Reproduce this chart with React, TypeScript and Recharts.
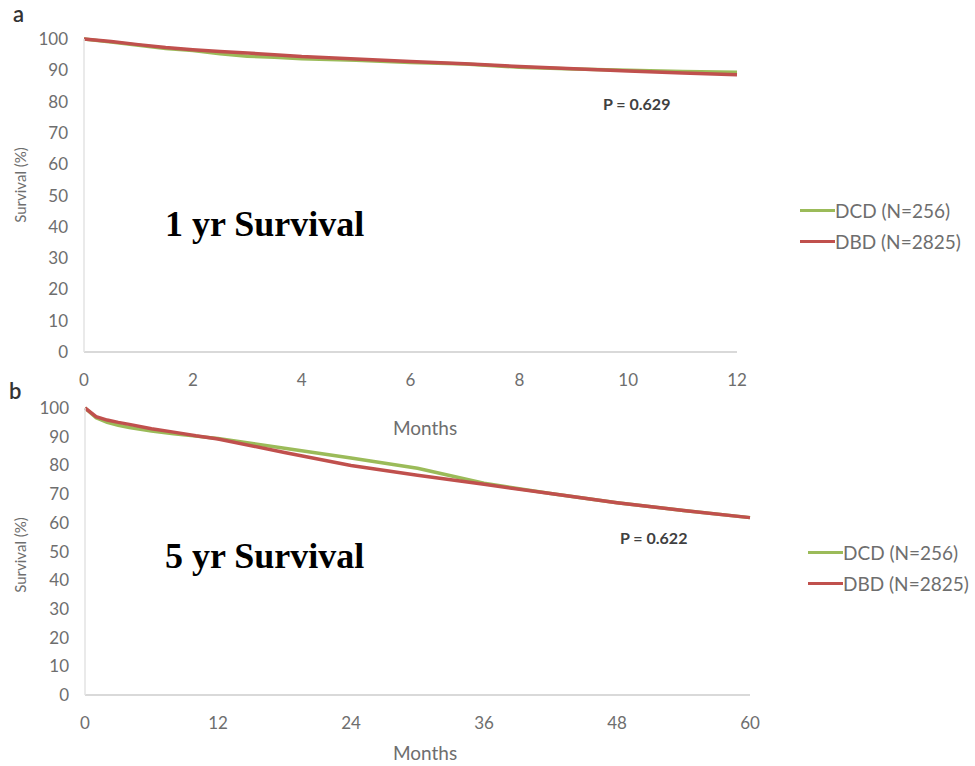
import { LineChart, Line, XAxis, YAxis, Legend } from 'recharts'

const GREEN = '#9bbb59'
const RED = '#c0504d'
const FONT = 'Lato, "Open Sans", sans-serif'
const GREY = '#6e6e6e'

// panel a: 1 year
const oneYearMonths = [0, 0.5, 1, 1.5, 2, 2.5, 3, 3.5, 4, 5, 6, 7, 8, 9, 10, 11, 12]
const oneYearDcd = [100, 99.0, 98.0, 97.0, 96.3, 95.3, 94.5, 94.2, 93.7, 93.2, 92.5, 92.0, 91.0, 90.4, 90.0, 89.6, 89.4]
const oneYearDbd = [100, 99.2, 98.2, 97.3, 96.6, 96.0, 95.5, 95.0, 94.4, 93.6, 92.8, 92.1, 91.2, 90.5, 89.8, 89.1, 88.6]
const oneYearTicks = [0, 2, 4, 6, 8, 10, 12]

// panel b: 5 years
const fiveYearMonths = [0, 1, 2, 3, 4, 6, 8, 10, 12, 18, 24, 30, 36, 42, 48, 54, 60]
const fiveYearDcd = [100, 96.6, 95.0, 94.0, 93.2, 92.0, 91.0, 90.2, 89.4, 86.0, 82.6, 79.0, 73.8, 70.2, 67.0, 64.3, 61.8]
const fiveYearDbd = [100, 97.0, 95.8, 95.0, 94.3, 92.8, 91.6, 90.3, 89.2, 84.5, 80.0, 76.6, 73.4, 70.2, 67.0, 64.3, 61.8]
const fiveYearTicks = [0, 12, 24, 36, 48, 60]

const survivalTicks = [0, 10, 20, 30, 40, 50, 60, 70, 80, 90, 100]
const seriesNames = ['DCD (N=256)', 'DBD (N=2825)']

const toRows = (months: number[], dcd: number[], dbd: number[]) =>
  months.map((m, i) => ({ month: m, dcd: dcd[i], dbd: dbd[i] }))

function KmLegend({ payload }: any) {
  // keep the series order (DCD first), recharts sorts by name otherwise
  const items = [...(payload || [])].sort(
    (a: any, b: any) => seriesNames.indexOf(a.value) - seriesNames.indexOf(b.value))
  return (
    <div style={{ fontFamily: FONT }}>
      {items.map((p: any) => (
        <div key={p.value} style={{ display: 'flex', alignItems: 'center', height: 31 }}>
          <span style={{ display: 'inline-block', width: 35, height: 3.5, background: p.color }} />
          <span style={{ fontSize: 19, color: GREY }}>{p.value}</span>
        </div>
      ))}
    </div>
  )
}

const yTitle = (cx: number, cy: number) => () => (
  <text x={cx} y={cy} transform={`rotate(-90 ${cx} ${cy})`} textAnchor="middle"
    dominantBaseline="central" fontSize={15} fill={GREY} fontFamily={FONT}>
    Survival (%)
  </text>
)

const xTitle = (cx: number, cy: number) => () => (
  <text x={cx} y={cy} textAnchor="middle" dominantBaseline="central"
    fontSize={19} fill={GREY} fontFamily={FONT}>
    Months
  </text>
)

type PanelProps = {
  rows: { month: number; dcd: number; dbd: number }[]
  xMax: number
  xTicks: number[]
  height: number
  margin: { top: number; right: number; left: number; bottom: number }
  legendPos: { left: number; top: number }
  yTitlePos: [number, number]
  xTitlePos: [number, number]
}

function SurvivalPanel({ rows, xMax, xTicks, height, margin, legendPos, yTitlePos, xTitlePos }: PanelProps) {
  return (
    <LineChart width={975} height={height} data={rows} margin={margin}>
      <XAxis type="number" dataKey="month" domain={[0, xMax]} ticks={xTicks} height={30}
        axisLine={{ stroke: '#d9d9d9', strokeWidth: 2 }} tickLine={false} tickSize={0} tickMargin={22}
        tick={{ fill: GREY, fontSize: 17, fontFamily: FONT }}
        label={xTitle(xTitlePos[0], xTitlePos[1])} />
      <YAxis type="number" domain={[0, 100]} ticks={survivalTicks} width={74}
        axisLine={{ stroke: '#e3e3e3', strokeWidth: 1.5 }} tickLine={false} tickSize={0} tickMargin={16}
        tick={{ fill: GREY, fontSize: 17, fontFamily: FONT }}
        label={yTitle(yTitlePos[0], yTitlePos[1])} />
      <Legend layout="vertical" align="center" verticalAlign="middle" content={<KmLegend />}
        wrapperStyle={{ left: legendPos.left, top: legendPos.top, width: 200 }} />
      <Line type="linear" dataKey="dcd" name={seriesNames[0]} stroke={GREEN} strokeWidth={3.5}
        dot={false} isAnimationActive={false} />
      <Line type="linear" dataKey="dbd" name={seriesNames[1]} stroke={RED} strokeWidth={3.5}
        dot={false} isAnimationActive={false} />
    </LineChart>
  )
}

const abs = (left: number, top: number): React.CSSProperties => ({ position: 'absolute', left, top })

export default function App() {
  return (
    <div style={{ position: 'absolute', left: 0, top: 0, width: 975, height: 766, background: '#fff', overflow: 'hidden' }}>
      <div style={abs(0, 0)}>
        <SurvivalPanel rows={toRows(oneYearMonths, oneYearDcd, oneYearDbd)} xMax={12} xTicks={oneYearTicks}
          height={450} margin={{ top: 39, right: 238, left: 10, bottom: 68 }}
          legendPos={{ left: 800, top: 195 }} yTitlePos={[20, 185]} xTitlePos={[425, 427]} />
      </div>
      <div style={abs(0, 380)}>
        <SurvivalPanel rows={toRows(fiveYearMonths, fiveYearDcd, fiveYearDbd)} xMax={60} xTicks={fiveYearTicks}
          height={386} margin={{ top: 28, right: 225, left: 11, bottom: 41 }}
          legendPos={{ left: 808, top: 157 }} yTitlePos={[20, 175]} xTitlePos={[425, 372]} />
      </div>

      <div style={{ ...abs(13, 3), fontFamily: FONT, fontSize: 22, fontWeight: 600, color: '#333', lineHeight: 1 }}>a</div>
      <div style={{ ...abs(9, 380), fontFamily: FONT, fontSize: 22, fontWeight: 600, color: '#333', lineHeight: 1 }}>b</div>

      <div style={{ ...abs(165, 206), fontFamily: '"Liberation Serif", "Times New Roman", serif', fontSize: 36, fontWeight: 700, lineHeight: 1, whiteSpace: 'nowrap' }}>1 yr Survival</div>
      <div style={{ ...abs(165, 538), fontFamily: '"Liberation Serif", "Times New Roman", serif', fontSize: 36, fontWeight: 700, lineHeight: 1, whiteSpace: 'nowrap' }}>5 yr Survival</div>

      <div style={{ ...abs(603, 96), fontFamily: FONT, fontSize: 16, fontWeight: 700, color: '#404040', lineHeight: 1, whiteSpace: 'nowrap' }}>P = 0.629</div>
      <div style={{ ...abs(620, 530), fontFamily: FONT, fontSize: 16, fontWeight: 700, color: '#404040', lineHeight: 1, whiteSpace: 'nowrap' }}>P = 0.622</div>
    </div>
  )
}
